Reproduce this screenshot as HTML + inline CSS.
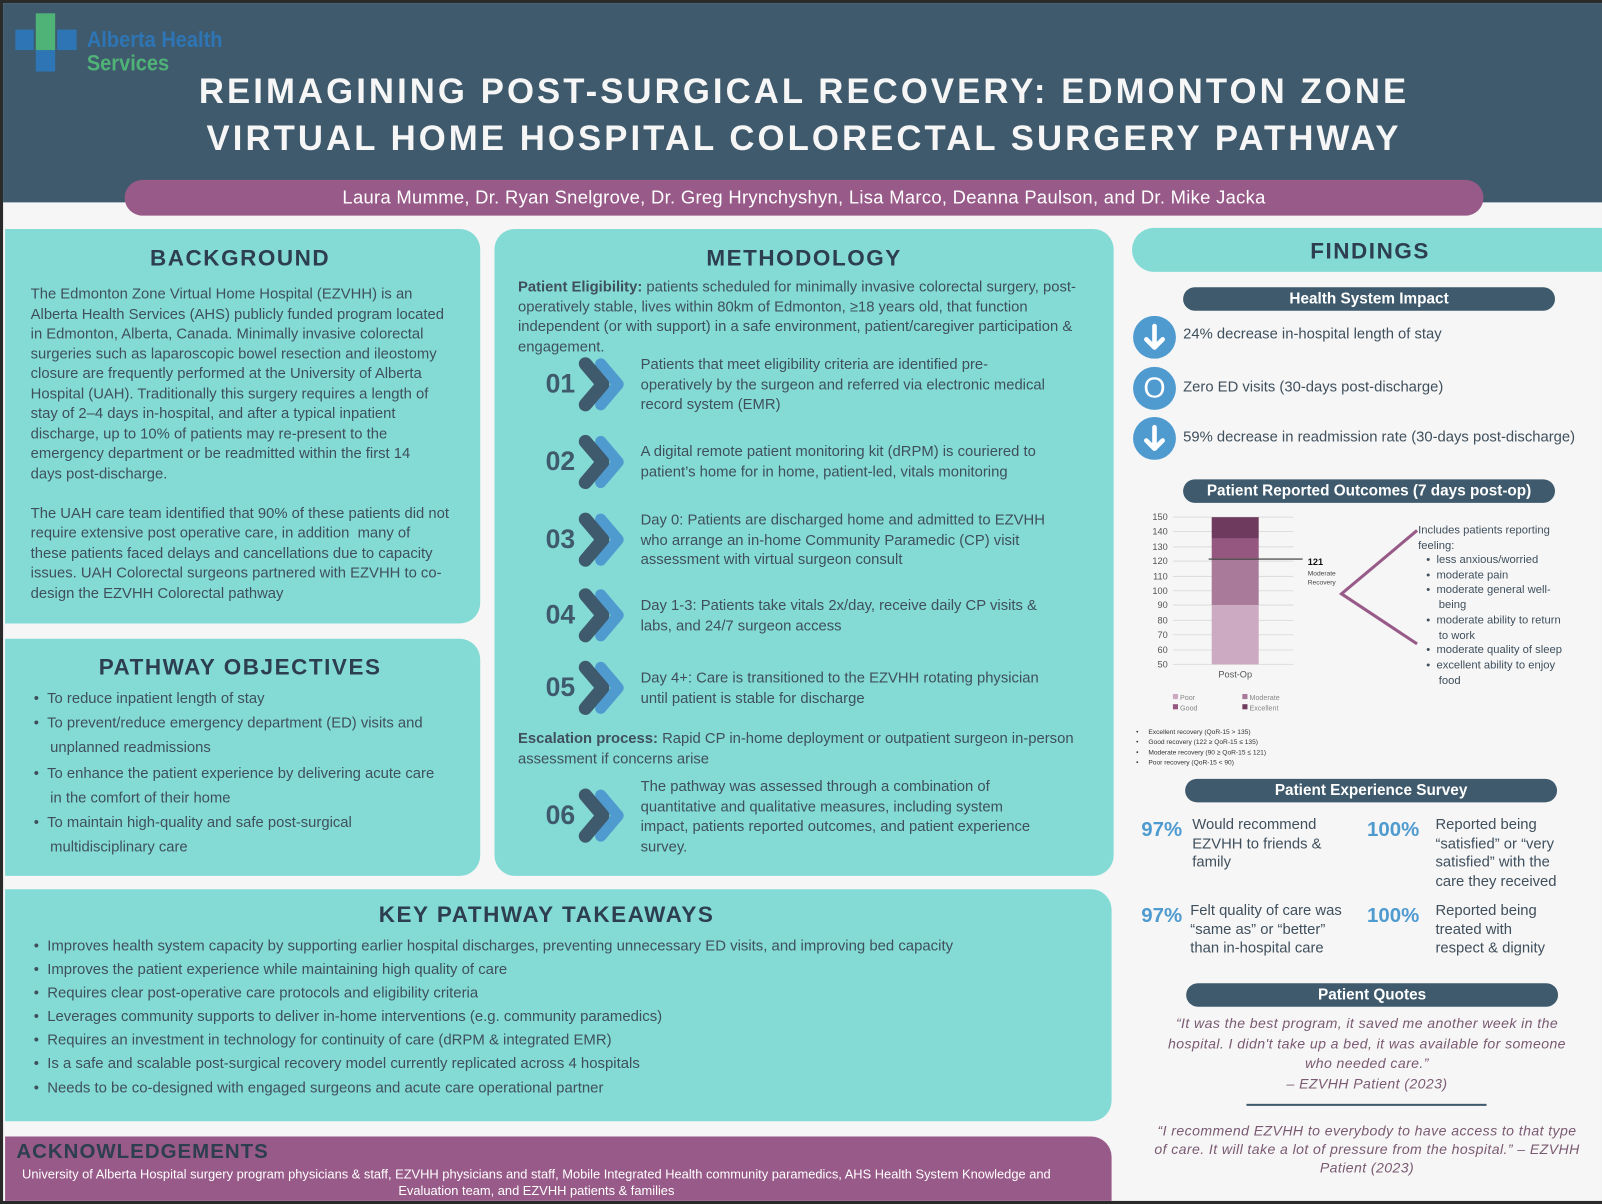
<!DOCTYPE html>
<html><head><meta charset="utf-8"><style>
html,body{margin:0;padding:0;}
body{width:1602px;height:1204px;overflow:hidden;background:#2a2a2a;font-family:"Liberation Sans",sans-serif;}
#w{position:absolute;left:0;top:0;width:1568px;height:1178px;transform:scale(1.02168,1.02207);transform-origin:0 0;}
.a{position:absolute;}
.nw{white-space:nowrap;}
.box{position:absolute;background:#84dbd5;}
.h{position:absolute;font-weight:bold;color:#2c3e50;letter-spacing:1.5px;font-size:22px;text-align:center;}
.t{position:absolute;font-size:14.5px;letter-spacing:0;color:#3f4f5c;line-height:19.5px;white-space:nowrap;}
.pill{position:absolute;background:#3f5a6c;color:#fff;font-weight:bold;font-size:15px;text-align:center;border-radius:12px;}
.num{position:absolute;font-size:26px;font-weight:bold;color:#3f5a6c;}
.ci{position:absolute;width:42px;height:42px;border-radius:50%;background:#4f9bd0;color:#fff;text-align:center;font-size:28px;line-height:42px;font-weight:bold;}
.pct{position:absolute;font-size:20px;font-weight:bold;color:#4f9bd0;}
.q{position:absolute;font-style:italic;color:#7a5a72;font-size:13.8px;text-align:center;line-height:19.5px;letter-spacing:0.4px;}
</style></head><body><div id="w">
<div class="a" style="left:3px;top:3px;width:1565px;height:1172px;background:#f6f6f6;"></div>
<div class="a" style="left:3px;top:3px;width:1565px;height:195px;background:#3f5a6c;"></div>
<!-- logo -->
<div class="a" style="left:15px;top:29px;width:18px;height:20px;background:#2e75b6;"></div>
<div class="a" style="left:56px;top:29px;width:19px;height:20px;background:#2e75b6;"></div>
<div class="a" style="left:35px;top:49px;width:19px;height:21px;background:#2e75b6;"></div>
<div class="a" style="left:35px;top:13px;width:19px;height:36px;background:#4fb377;"></div>
<div class="a nw" style="left:85px;top:27px;font-size:22px;color:#2e75b6;font-weight:bold;transform:scaleX(0.89);transform-origin:0 0;line-height:24px;">Alberta Health</div>
<div class="a nw" style="left:85px;top:50px;font-size:22px;color:#4fb377;font-weight:bold;transform:scaleX(0.89);transform-origin:0 0;line-height:24px;">Services</div>
<div class="a nw" style="left:0;width:1574px;top:67px;text-align:center;color:#f6f6f6;font-weight:900;font-size:34px;letter-spacing:3px;line-height:46px;">REIMAGINING POST-SURGICAL RECOVERY: EDMONTON ZONE<br>VIRTUAL HOME HOSPITAL COLORECTAL SURGERY PATHWAY</div>
<div class="a nw" style="left:122px;top:176px;width:1330px;height:35px;border-radius:18px;background:#985a88;color:#fff;font-size:18px;letter-spacing:0.3px;text-align:center;line-height:35px;">Laura Mumme, Dr. Ryan Snelgrove, Dr. Greg Hrynchyshyn, Lisa Marco, Deanna Paulson, and Dr. Mike Jacka</div>

<!-- background -->
<div class="box" style="left:5px;top:224px;width:465px;height:386px;border-radius:0 20px 20px 0;"></div>
<div class="h" style="left:5px;width:460px;top:240px;">BACKGROUND</div>
<div class="t" style="left:30px;top:279px;">The Edmonton Zone Virtual Home Hospital (EZVHH) is an<br>Alberta Health Services (AHS) publicly funded program located<br>in Edmonton, Alberta, Canada. Minimally invasive colorectal<br>surgeries such as laparoscopic bowel resection and ileostomy<br>closure are frequently performed at the University of Alberta<br>Hospital (UAH). Traditionally this surgery requires a length of<br>stay of 2–4 days in-hospital, and after a typical inpatient<br>discharge, up to 10% of patients may re-present to the<br>emergency department or be readmitted within the first 14<br>days post-discharge.<br><br>The UAH care team identified that 90% of these patients did not<br>require extensive post operative care, in addition&nbsp; many of<br>these patients faced delays and cancellations due to capacity<br>issues. UAH Colorectal surgeons partnered with EZVHH to co-<br>design the EZVHH Colorectal pathway</div>

<!-- objectives -->
<div class="box" style="left:5px;top:625px;width:465px;height:232px;border-radius:0 20px 20px 0;"></div>
<div class="h" style="left:5px;width:460px;top:640px;">PATHWAY OBJECTIVES</div>
<div class="t" style="left:33px;top:672px;line-height:24.2px;">•&nbsp;&nbsp;To reduce inpatient length of stay<br>•&nbsp;&nbsp;To prevent/reduce emergency department (ED) visits and<br>&nbsp;&nbsp;&nbsp;&nbsp;unplanned readmissions<br>•&nbsp;&nbsp;To enhance the patient experience by delivering acute care<br>&nbsp;&nbsp;&nbsp;&nbsp;in the comfort of their home<br>•&nbsp;&nbsp;To maintain high-quality and safe post-surgical<br>&nbsp;&nbsp;&nbsp;&nbsp;multidisciplinary care</div>

<!-- methodology -->
<div class="box" style="left:484px;top:224px;width:606px;height:633px;border-radius:20px;"></div>
<div class="h" style="left:484px;width:606px;top:240px;">METHODOLOGY</div>
<div class="t" style="left:507px;top:272px;"><b>Patient Eligibility:</b> patients scheduled for minimally invasive colorectal surgery, post-<br>operatively stable, lives within 80km of Edmonton, ≥18 years old, that function<br>independent (or with support) in a safe environment, patient/caregiver participation &amp;<br>engagement.</div>
<svg class="a" style="left:484px;top:340px;" width="140" height="500">
<defs><g id="cv"><polyline points="0,-20 17,0 0,20" fill="none" stroke="#4f9bd0" stroke-width="11" stroke-linecap="round" stroke-linejoin="round" transform="translate(15,0)"/><polyline points="0,-20 17,0 0,20" fill="none" stroke="#3f5a6c" stroke-width="13" stroke-linecap="round" stroke-linejoin="round"/></g></defs>
<use href="#cv" x="89" y="36"/><use href="#cv" x="89" y="112"/><use href="#cv" x="89" y="188"/><use href="#cv" x="89" y="262"/><use href="#cv" x="89" y="333"/><use href="#cv" x="89" y="458"/>
</svg>
<div class="num" style="left:534px;top:360px;">01</div>
<div class="num" style="left:534px;top:436px;">02</div>
<div class="num" style="left:534px;top:512px;">03</div>
<div class="num" style="left:534px;top:586px;">04</div>
<div class="num" style="left:534px;top:657px;">05</div>
<div class="num" style="left:534px;top:782px;">06</div>
<div class="t" style="left:627px;top:348px;">Patients that meet eligibility criteria are identified pre-<br>operatively by the surgeon and referred via electronic medical<br>record system (EMR)</div>
<div class="t" style="left:627px;top:433px;">A digital remote patient monitoring kit (dRPM) is couriered to<br>patient’s home for in home, patient-led, vitals monitoring</div>
<div class="t" style="left:627px;top:500px;">Day 0: Patients are discharged home and admitted to EZVHH<br>who arrange an in-home Community Paramedic (CP) visit<br>assessment with virtual surgeon consult</div>
<div class="t" style="left:627px;top:584px;">Day 1-3: Patients take vitals 2x/day, receive daily CP visits &amp;<br>labs, and 24/7 surgeon access</div>
<div class="t" style="left:627px;top:655px;">Day 4+: Care is transitioned to the EZVHH rotating physician<br>until patient is stable for discharge</div>
<div class="t" style="left:507px;top:714px;"><b>Escalation process:</b> Rapid CP in-home deployment or outpatient surgeon in-person<br>assessment if concerns arise</div>
<div class="t" style="left:627px;top:761px;">The pathway was assessed through a combination of<br>quantitative and qualitative measures, including system<br>impact, patients reported outcomes, and patient experience<br>survey.</div>

<!-- takeaways -->
<div class="box" style="left:5px;top:870px;width:1083px;height:227px;border-radius:0 20px 20px 0;"></div>
<div class="h" style="left:5px;width:1060px;top:882px;">KEY PATHWAY TAKEAWAYS</div>
<div class="t" style="left:33px;top:915px;line-height:23.1px;font-size:14.6px;letter-spacing:0;">•&nbsp;&nbsp;Improves health system capacity by supporting earlier hospital discharges, preventing unnecessary ED visits, and improving bed capacity<br>•&nbsp;&nbsp;Improves the patient experience while maintaining high quality of care<br>•&nbsp;&nbsp;Requires clear post-operative care protocols and eligibility criteria<br>•&nbsp;&nbsp;Leverages community supports to deliver in-home interventions (e.g. community paramedics)<br>•&nbsp;&nbsp;Requires an investment in technology for continuity of care (dRPM &amp; integrated EMR)<br>•&nbsp;&nbsp;Is a safe and scalable post-surgical recovery model currently replicated across 4 hospitals<br>•&nbsp;&nbsp;Needs to be co-designed with engaged surgeons and acute care operational partner</div>

<!-- ack -->
<div class="a" style="left:5px;top:1112px;width:1083px;height:63px;background:#985a88;border-radius:0 20px 0 0;"></div>
<div class="a nw" style="left:16px;top:1116px;font-size:20px;font-weight:bold;color:#2c3e50;letter-spacing:1px;">ACKNOWLEDGEMENTS</div>
<div class="a nw" style="left:5px;width:1040px;top:1141px;font-size:12.6px;letter-spacing:0;color:#fff;text-align:center;line-height:16px;">University of Alberta Hospital surgery program physicians &amp; staff, EZVHH physicians and staff, Mobile Integrated Health community paramedics, AHS Health System Knowledge and<br>Evaluation team, and EZVHH patients &amp; families</div>

<!-- findings -->
<div class="box" style="left:1108px;top:223px;width:460px;height:43px;border-radius:22px 0 0 22px;"></div>
<div class="h" style="left:1108px;width:466px;top:233px;">FINDINGS</div>
<div class="pill" style="left:1158px;top:281px;width:364px;height:23px;line-height:23px;">Health System Impact</div>
<svg class="a" style="left:1109px;top:309px;" width="42" height="42"><circle cx="21" cy="21" r="21" fill="#4f9bd0"/><path d="M21 10 V30 M13 23 L21 31 L29 23" fill="none" stroke="#fff" stroke-width="4.5" stroke-linecap="round" stroke-linejoin="round"/></svg>
<div class="ci" style="left:1109px;top:359px;font-weight:normal;">O</div>
<svg class="a" style="left:1109px;top:408px;" width="42" height="42"><circle cx="21" cy="21" r="21" fill="#4f9bd0"/><path d="M21 10 V30 M13 23 L21 31 L29 23" fill="none" stroke="#fff" stroke-width="4.5" stroke-linecap="round" stroke-linejoin="round"/></svg>
<div class="t" style="left:1158px;top:318px;">24% decrease in-hospital length of stay</div>
<div class="t" style="left:1158px;top:370px;">Zero ED visits (30-days post-discharge)</div>
<div class="t" style="left:1158px;top:419px;">59% decrease in readmission rate (30-days post-discharge)</div>

<div class="pill" style="left:1158px;top:469px;width:364px;height:23px;line-height:23px;">Patient Reported Outcomes (7 days post-op)</div>
<svg class="a" style="left:1100px;top:495px;" width="468" height="260" font-family="Liberation Sans, sans-serif">
<g font-size="9" fill="#555" text-anchor="end">
<text x="43" y="14">150</text><text x="43" y="28">140</text><text x="43" y="43">130</text><text x="43" y="57">120</text><text x="43" y="72">110</text><text x="43" y="86">100</text><text x="43" y="100">90</text><text x="43" y="115">80</text><text x="43" y="129">70</text><text x="43" y="144">60</text><text x="43" y="158">50</text>
</g>
<g stroke="#ddd" stroke-width="1">
<line x1="48" y1="11" x2="166" y2="11"/><line x1="48" y1="25" x2="166" y2="25"/><line x1="48" y1="40" x2="166" y2="40"/><line x1="48" y1="54" x2="166" y2="54"/><line x1="48" y1="69" x2="166" y2="69"/><line x1="48" y1="83" x2="166" y2="83"/><line x1="48" y1="97" x2="166" y2="97"/><line x1="48" y1="112" x2="166" y2="112"/><line x1="48" y1="126" x2="166" y2="126"/><line x1="48" y1="141" x2="166" y2="141"/><line x1="48" y1="155" x2="166" y2="155"/>
</g>
<rect x="86" y="11" width="46" height="21" fill="#6e3b5e"/>
<rect x="86" y="32" width="46" height="19" fill="#955680"/>
<rect x="86" y="51" width="46" height="46" fill="#a97a9a"/>
<rect x="86" y="97" width="46" height="58" fill="#ccaac1"/>
<line x1="83" y1="52" x2="175" y2="52" stroke="#333" stroke-width="1.2"/>
<text x="180" y="58" font-size="9" font-weight="bold" fill="#111">121</text>
<text x="180" y="68" font-size="6.5" fill="#444">Moderate</text>
<text x="180" y="77" font-size="6.5" fill="#444">Recovery</text>
<text x="109" y="168" font-size="9" fill="#555" text-anchor="middle">Post-Op</text>
<polyline points="287,24 213,86 287,135" fill="none" stroke="#985a88" stroke-width="3"/>
<g font-size="7" fill="#888">
<rect x="48" y="184" width="5" height="5" fill="#ccaac1"/><text x="55" y="190">Poor</text>
<rect x="48" y="194" width="5" height="5" fill="#955680"/><text x="55" y="200">Good</text>
<rect x="116" y="184" width="5" height="5" fill="#a97a9a"/><text x="123" y="190">Moderate</text>
<rect x="116" y="194" width="5" height="5" fill="#6e3b5e"/><text x="123" y="200">Excellent</text>
</g>
<g font-size="6.5" fill="#333">
<text x="12" y="223">•</text><text x="24" y="223">Excellent recovery (QoR-15 &gt; 135)</text>
<text x="12" y="233">•</text><text x="24" y="233">Good recovery (122 ≥ QoR-15 ≤ 135)</text>
<text x="12" y="243">•</text><text x="24" y="243">Moderate recovery (90 ≥ QoR-15 ≤ 121)</text>
<text x="12" y="253">•</text><text x="24" y="253">Poor recovery (QoR-15 &lt; 90)</text>
</g>
</svg>
<div class="a nw" style="left:1388px;top:512px;font-size:11px;color:#3f4f5c;line-height:14.7px;">Includes patients reporting<br>feeling:</div>
<div class="a nw" style="left:1396px;top:541px;font-size:11px;color:#3f4f5c;line-height:14.7px;">•&nbsp;&nbsp;less anxious/worried<br>•&nbsp;&nbsp;moderate pain<br>•&nbsp;&nbsp;moderate general well-<br>&nbsp;&nbsp;&nbsp;&nbsp;being<br>•&nbsp;&nbsp;moderate ability to return<br>&nbsp;&nbsp;&nbsp;&nbsp;to work<br>•&nbsp;&nbsp;moderate quality of sleep<br>•&nbsp;&nbsp;excellent ability to enjoy<br>&nbsp;&nbsp;&nbsp;&nbsp;food</div>

<div class="pill" style="left:1160px;top:762px;width:364px;height:23px;line-height:23px;">Patient Experience Survey</div>
<div class="pct" style="left:1117px;top:801px;">97%</div>
<div class="pct" style="left:1338px;top:801px;">100%</div>
<div class="pct" style="left:1117px;top:885px;">97%</div>
<div class="pct" style="left:1338px;top:885px;">100%</div>
<div class="t" style="left:1167px;top:798px;line-height:18.7px;">Would recommend<br>EZVHH to friends &amp;<br>family</div>
<div class="t" style="left:1405px;top:798px;line-height:18.7px;">Reported being<br>“satisfied” or “very<br>satisfied” with the<br>care they received</div>
<div class="t" style="left:1165px;top:882px;line-height:18.7px;">Felt quality of care was<br>“same as” or “better”<br>than in-hospital care</div>
<div class="t" style="left:1405px;top:882px;line-height:18.7px;">Reported being<br>treated with<br>respect &amp; dignity</div>

<div class="pill" style="left:1161px;top:962px;width:364px;height:23px;line-height:23px;">Patient Quotes</div>
<div class="q nw" style="left:1108px;width:460px;top:992px;">“It was the best program, it saved me another week in the<br>hospital. I didn't take up a bed, it was available for someone<br>who needed care.”<br>– EZVHH Patient (2023)</div>
<div class="a" style="left:1220px;top:1080px;width:235px;height:1.5px;background:#3f5a6c;"></div>
<div class="q nw" style="left:1108px;width:460px;top:1098px;line-height:18px;">“I recommend EZVHH to everybody to have access to that type<br>of care. It will take a lot of pressure from the hospital.” – EZVHH<br>Patient (2023)</div>
</div></body></html>
